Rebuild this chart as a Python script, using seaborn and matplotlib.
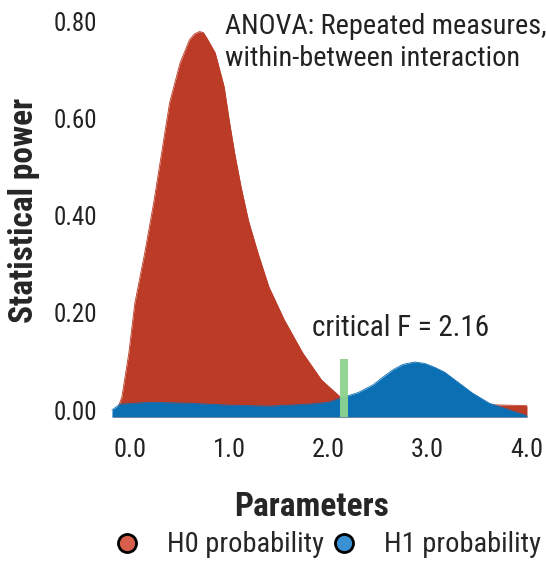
import numpy as np
import pandas as pd
import matplotlib
matplotlib.use("Agg")
import matplotlib.pyplot as plt
from matplotlib.lines import Line2D
import seaborn as sns

# H0 curve
h0_x = [-0.17, -0.12, -0.08, -0.01, 0.05, 0.15, 0.24, 0.32, 0.40, 0.505, 0.60, 0.65, 0.70,
        0.74, 0.78, 0.86, 0.95, 1.0, 1.055, 1.12, 1.195, 1.29, 1.40, 1.555, 1.74, 1.93, 2.13,
        2.4, 2.8, 3.2, 3.6, 4.0]
h0_y = [-0.014, 0.005, 0.027, 0.118, 0.22, 0.324, 0.427, 0.53, 0.633, 0.715, 0.763, 0.775, 0.78,
        0.778, 0.765, 0.736, 0.666, 0.598, 0.53, 0.46, 0.39, 0.324, 0.254, 0.186, 0.118, 0.062, 0.025,
        0.018, 0.014, 0.012, 0.011, 0.009]

# H1 curve
h1_x = [-0.18, -0.1, 0.2, 0.6, 1.0, 1.4, 1.8, 2.0, 2.13, 2.3, 2.45, 2.55, 2.65, 2.75, 2.87,
        2.97, 3.07, 3.17, 3.3, 3.45, 3.62, 3.78, 4.0]
h1_y = [0.0, 0.012, 0.016, 0.014, 0.01, 0.008, 0.012, 0.016, 0.025, 0.036, 0.052, 0.068,
        0.083, 0.094, 0.099, 0.096, 0.088, 0.078, 0.058, 0.035, 0.014, 0.003, -0.012]

critical_f = 2.16
critical_h = 0.105
x_ticks = [0.0, 1.0, 2.0, 3.0, 4.0]
y_ticks = [0.0, 0.2, 0.4, 0.6, 0.8]

red = "#BC3B27"
blue = "#0B6FB4"
green = "#8ED38E"

df = pd.concat([
    pd.DataFrame({"x": h0_x, "y": h0_y, "series": "H0 probability"}),
    pd.DataFrame({"x": h1_x, "y": h1_y, "series": "H1 probability"}),
], ignore_index=True)

sns.set_theme(style="white")
plt.rcParams["font.family"] = ["Roboto Condensed", "Archivo Narrow", "DejaVu Sans"]

fig = plt.figure(figsize=(5.46, 5.85), dpi=100)
ax = fig.add_axes([110 / 546, 1 - 417 / 585, 417 / 546, 400 / 585])
ymin = -0.0144

sns.lineplot(data=df, x="x", y="y", hue="series", palette=[red, blue],
             linewidth=0.6, legend=False, ax=ax, sort=False)
for i, (name, col) in enumerate([("H0 probability", red), ("H1 probability", blue)]):
    d = df[df["series"] == name]
    ax.lines[i].set_zorder(2 + 2 * i + 1)
    ax.fill_between(d["x"], d["y"], ymin, color=col, linewidth=0, zorder=2 + 2 * i)

ax.bar([critical_f], [critical_h - ymin], bottom=ymin, width=0.08, color=green,
       linewidth=0, alpha=0.95, zorder=8)

ax.set_xlim(-0.2, 4.0)
ax.set_ylim(ymin, 0.81)
ax.set_xticks(x_ticks)
ax.set_xticklabels([f"{v:.1f}" for v in x_ticks])
ax.set_yticks(y_ticks)
ax.set_yticklabels([f"{v:.2f}" for v in y_ticks])
ax.tick_params(axis="x", length=0, pad=15, labelsize=19, colors="#222222")
ax.tick_params(axis="y", length=0, pad=9, labelsize=18, colors="#222222")
for s in ax.spines.values():
    s.set_visible(False)

ax.set_xlabel("Parameters", fontsize=24, fontweight="bold", va="center", ha="center")
ax.set_ylabel("Statistical power", fontsize=24, fontweight="bold", va="center", ha="center")
ax.xaxis.set_label_coords(0.484, (417 - 507) / 400)
ax.yaxis.set_label_coords((24 - 110) / 417, 0.5 + (417 - 210 - 200) / 400)

ax.text(0.96, 0.818, "ANOVA: Repeated measures,\nwithin-between interaction",
        fontsize=20.3, va="top", ha="left", color="#222222", linespacing=1.25)
ax.text(1.83, 0.169, "critical F = 2.16", fontsize=21, va="center", ha="left", color="#222222")

handles = [
    Line2D([0], [0], marker="o", linestyle="", markersize=13, markerfacecolor="#D6604B",
           markeredgecolor="black", markeredgewidth=2, label="H0 probability"),
    Line2D([0], [0], marker="o", linestyle="", markersize=13, markerfacecolor="#3990D3",
           markeredgecolor="black", markeredgewidth=2, label="H1 probability"),
]
fig.legend(handles=handles, loc="center", bbox_to_anchor=(328 / 546, 1 - 545 / 585), ncol=2,
           frameon=False, fontsize=20.5, handlelength=0.8, handletextpad=1.0, columnspacing=0.3)

fig.savefig("out.png", dpi=100)
